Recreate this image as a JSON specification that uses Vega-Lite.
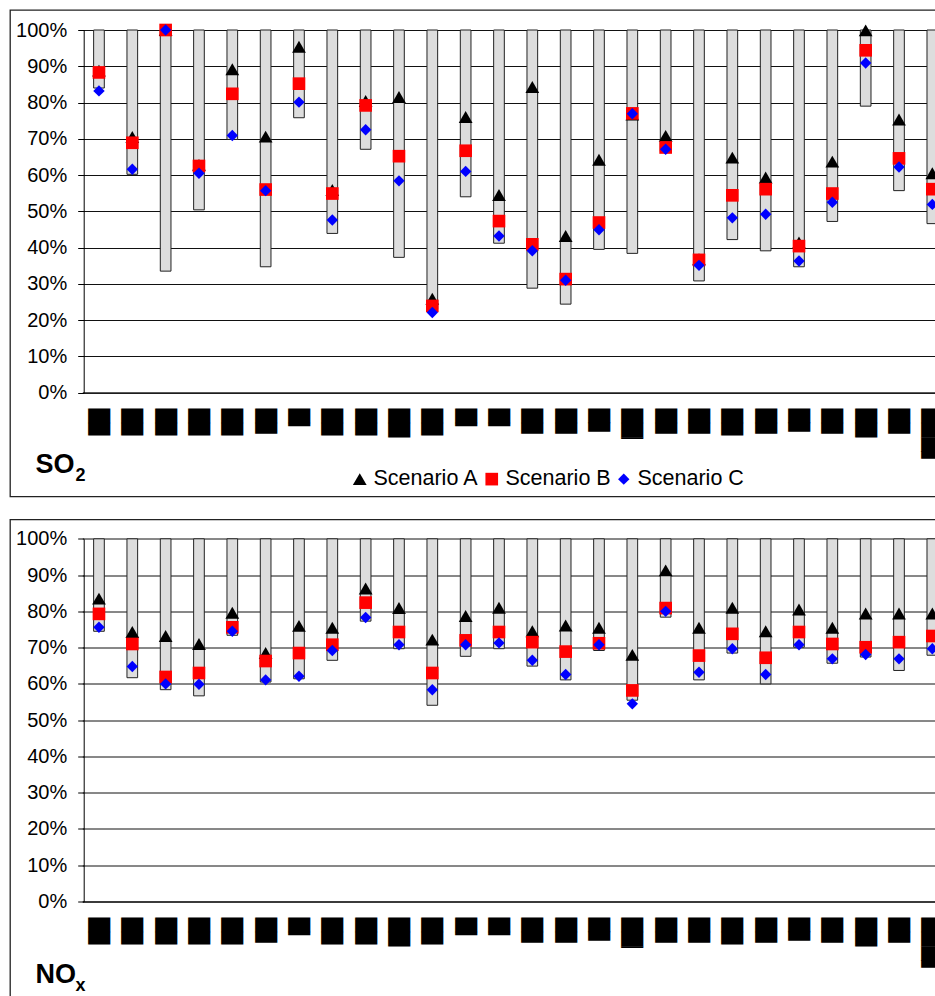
{
  "$schema": "https://vega.github.io/schema/vega-lite/v6.json",
  "padding": {"left": 9, "top": 9, "right": 0, "bottom": 0},
  "background": "white",
  "spacing": 20.5,
  "config": {
    "font": "Liberation Sans",
    "view": {"stroke": "#222", "strokeWidth": 1.3, "fill": "white"},
    "legend": {
      "orient": "none", "direction": "horizontal", "columns": 3, "title": null,
      "labelFont": "Liberation Sans", "labelFontSize": 21.5, "labelColor": "#000",
      "symbolSize": 150, "symbolStrokeWidth": 0, "labelOffset": 3, "columnPadding": 2, "padding": 0, "labelLimit": 0
    }
  },
  "datasets": {
    "so2": [
      {"cat": 1, "low": 84, "Scenario A": 88.8, "Scenario B": 88.3, "Scenario C": 83.2},
      {"cat": 2, "low": 60.2, "Scenario A": 70.5, "Scenario B": 68.9, "Scenario C": 61.6},
      {"cat": 3, "low": 33.5, "Scenario A": 100, "Scenario B": 100, "Scenario C": 100},
      {"cat": 4, "low": 50.4, "Scenario A": 62.8, "Scenario B": 62.5, "Scenario C": 60.5},
      {"cat": 5, "low": 69.8, "Scenario A": 89.2, "Scenario B": 82.4, "Scenario C": 70.9},
      {"cat": 6, "low": 34.7, "Scenario A": 70.6, "Scenario B": 56, "Scenario C": 55.7},
      {"cat": 7, "low": 75.8, "Scenario A": 95.4, "Scenario B": 85.2, "Scenario C": 80.1},
      {"cat": 8, "low": 43.9, "Scenario A": 55.9, "Scenario B": 54.9, "Scenario C": 47.6},
      {"cat": 9, "low": 67.1, "Scenario A": 80.4, "Scenario B": 79.2, "Scenario C": 72.5},
      {"cat": 10, "low": 37.3, "Scenario A": 81.5, "Scenario B": 65.2, "Scenario C": 58.4},
      {"cat": 11, "low": 23, "Scenario A": 25.9, "Scenario B": 23.9, "Scenario C": 22.1},
      {"cat": 12, "low": 54, "Scenario A": 76, "Scenario B": 66.7, "Scenario C": 61},
      {"cat": 13, "low": 41.2, "Scenario A": 54.5, "Scenario B": 47.3, "Scenario C": 43.2},
      {"cat": 14, "low": 28.8, "Scenario A": 84.3, "Scenario B": 40.9, "Scenario C": 39.1},
      {"cat": 15, "low": 24.4, "Scenario A": 43.2, "Scenario B": 31.3, "Scenario C": 31},
      {"cat": 16, "low": 39.5, "Scenario A": 64.2, "Scenario B": 46.9, "Scenario C": 44.9},
      {"cat": 17, "low": 38.4, "Scenario A": 76.7, "Scenario B": 77, "Scenario C": 76.9},
      {"cat": 18, "low": 66.5, "Scenario A": 70.8, "Scenario B": 67.6, "Scenario C": 67.1},
      {"cat": 19, "low": 30.8, "Scenario A": 36.8, "Scenario B": 36.6, "Scenario C": 35.1},
      {"cat": 20, "low": 42.2, "Scenario A": 64.8, "Scenario B": 54.4, "Scenario C": 48.2},
      {"cat": 21, "low": 39.1, "Scenario A": 59.3, "Scenario B": 56.1, "Scenario C": 49.2},
      {"cat": 22, "low": 34.7, "Scenario A": 41.4, "Scenario B": 40.4, "Scenario C": 36.3},
      {"cat": 23, "low": 47.2, "Scenario A": 63.7, "Scenario B": 54.9, "Scenario C": 52.5},
      {"cat": 24, "low": 79, "Scenario A": 99.9, "Scenario B": 94.4, "Scenario C": 90.9},
      {"cat": 25, "low": 55.7, "Scenario A": 75.3, "Scenario B": 64.6, "Scenario C": 62.2},
      {"cat": 26, "low": 46.6, "Scenario A": 60.5, "Scenario B": 56.1, "Scenario C": 51.9}
    ],
    "nox": [
      {"cat": 1, "low": 74.5, "Scenario A": 83.5, "Scenario B": 79.3, "Scenario C": 75.6},
      {"cat": 2, "low": 61.7, "Scenario A": 74.3, "Scenario B": 71, "Scenario C": 64.8},
      {"cat": 3, "low": 58.4, "Scenario A": 73.2, "Scenario B": 61.9, "Scenario C": 60},
      {"cat": 4, "low": 56.7, "Scenario A": 71, "Scenario B": 63, "Scenario C": 59.9},
      {"cat": 5, "low": 73.4, "Scenario A": 79.6, "Scenario B": 75.6, "Scenario C": 74.5},
      {"cat": 6, "low": 60.5, "Scenario A": 68.5, "Scenario B": 66.3, "Scenario C": 61.1},
      {"cat": 7, "low": 61.4, "Scenario A": 76, "Scenario B": 68.5, "Scenario C": 62.1},
      {"cat": 8, "low": 66.5, "Scenario A": 75.5, "Scenario B": 70.8, "Scenario C": 69.2},
      {"cat": 9, "low": 77.3, "Scenario A": 86.3, "Scenario B": 82.4, "Scenario C": 78.3},
      {"cat": 10, "low": 69.7, "Scenario A": 80.9, "Scenario B": 74.3, "Scenario C": 70.8},
      {"cat": 11, "low": 54.1, "Scenario A": 72.2, "Scenario B": 63, "Scenario C": 58.4},
      {"cat": 12, "low": 67.6, "Scenario A": 78.7, "Scenario B": 72, "Scenario C": 70.8},
      {"cat": 13, "low": 69.7, "Scenario A": 81, "Scenario B": 74.3, "Scenario C": 71.3},
      {"cat": 14, "low": 64.9, "Scenario A": 74.5, "Scenario B": 71.5, "Scenario C": 66.5},
      {"cat": 15, "low": 61.1, "Scenario A": 76.1, "Scenario B": 68.9, "Scenario C": 62.6},
      {"cat": 16, "low": 69.2, "Scenario A": 75.5, "Scenario B": 71.2, "Scenario C": 70.8},
      {"cat": 17, "low": 55.5, "Scenario A": 68, "Scenario B": 58.2, "Scenario C": 54.5},
      {"cat": 18, "low": 78.4, "Scenario A": 91.3, "Scenario B": 80.9, "Scenario C": 80},
      {"cat": 19, "low": 61.1, "Scenario A": 75.5, "Scenario B": 67.8, "Scenario C": 63.2},
      {"cat": 20, "low": 68.5, "Scenario A": 81, "Scenario B": 73.8, "Scenario C": 69.7},
      {"cat": 21, "low": 60, "Scenario A": 74.5, "Scenario B": 67.2, "Scenario C": 62.6},
      {"cat": 22, "low": 70.1, "Scenario A": 80.5, "Scenario B": 74.3, "Scenario C": 70.8},
      {"cat": 23, "low": 65.7, "Scenario A": 75.5, "Scenario B": 71, "Scenario C": 66.9},
      {"cat": 24, "low": 67.4, "Scenario A": 79.4, "Scenario B": 70.1, "Scenario C": 68.1},
      {"cat": 25, "low": 63.7, "Scenario A": 79.4, "Scenario B": 71.5, "Scenario C": 66.9},
      {"cat": 26, "low": 67.9, "Scenario A": 79.4, "Scenario B": 73.2, "Scenario C": 69.7}
    ]
  },
  "vconcat": [
    {
      "width": 927,
      "height": 486.5,
      "data": {"name": "so2"},
      "title": {"text": "SO", "subtitle": "\u200c\u00a0\u00a0\u00a0\u00a0\u00a0\u00a0\u00a0\u00a02", "orient": "top", "anchor": "start", "frame": "group", "offset": -497, "baseline": "alphabetic", "font": "Liberation Sans", "fontSize": 27, "fontWeight": "bold", "color": "#000", "subtitleFont": "Liberation Sans", "subtitleFontSize": 18, "subtitleFontWeight": "bold", "subtitleColor": "#000", "subtitlePadding": -19, "dx": 25.5},
      "encoding": {
        "x": {
          "field": "cat", "type": "ordinal",
          "scale": {"range": [72.3, 939], "paddingInner": 0, "paddingOuter": 0},
          "axis": {
            "title": null, "orient": "bottom", "offset": -104, "grid": false, "ticks": false, "tickSize": 0,
            "domain": true, "domainColor": "#222", "domainWidth": 1.5,
            "labelAngle": 90, "labelAlign": "left", "labelBaseline": "middle", "labelPadding": 15.5,
            "labelFont": "DejaVu Sans", "labelFontSize": 18.667, "labelColor": "#000",
            "labelOverlap": false, "labelBound": false, "labelFlush": false, "labelLimit": 0,
            "labelExpr": "['█▉','█▉','█▉','█▉','█▉','█▊','█▎','█▉','█▉','██','█▉','█▎','█▎','█▊','█▊','█▋','██▏','█▊','█▊','█▉','█▊','█▋','█▊','██','█▊','███▌'][datum.value - 1]"
          }
        }
      },
      "layer": [
        {
          "mark": {"type": "bar", "fill": "#dddddd", "stroke": "#222", "strokeWidth": 1, "width": {"band": 0.32}},
          "encoding": {
            "y": {
              "field": "low", "type": "quantitative",
              "scale": {"domain": [0, 100], "range": [382.6, 20], "nice": false, "zero": true},
              "axis": {"title": null, "offset": -73.7, "values": [0, 10, 20, 30, 40, 50, 60, 70, 80, 90, 100], "labelExpr": "datum.value + '%'", "grid": true, "gridColor": "#111", "gridWidth": 1, "domainColor": "#000", "domainWidth": 1, "tickColor": "#000", "tickSize": 6, "labelPadding": 11, "labelFont": "Liberation Sans", "labelFontSize": 20, "labelColor": "#000"}
            },
            "y2": {"datum": 100}
          }
        },
        {
          "transform": [{"fold": ["Scenario A", "Scenario B", "Scenario C"], "as": ["scenario", "value"]}],
          "mark": {"type": "point", "filled": true, "opacity": 1, "strokeWidth": 0},
          "encoding": {
            "y": {
              "field": "value", "type": "quantitative",
              "scale": {"domain": [0, 100], "range": [382.6, 20], "nice": false, "zero": true},
              "axis": {"title": null, "offset": -73.7, "values": [0, 10, 20, 30, 40, 50, 60, 70, 80, 90, 100], "labelExpr": "datum.value + '%'", "grid": true, "gridColor": "#111", "gridWidth": 1, "domainColor": "#000", "domainWidth": 1, "tickColor": "#000", "tickSize": 6, "labelPadding": 11, "labelFont": "Liberation Sans", "labelFontSize": 20, "labelColor": "#000"}
            },
            "size": {"field": "scenario", "type": "nominal", "scale": {"domain": ["Scenario A", "Scenario B", "Scenario C"], "range": [190, 130, 140]}, "legend": null},
            "color": {"field": "scenario", "type": "nominal", "scale": {"domain": ["Scenario A", "Scenario B", "Scenario C"], "range": ["#000000", "#ff0000", "#0000ff"]}, "legend": {"legendX": 339, "legendY": 458}},
            "shape": {"field": "scenario", "type": "nominal", "scale": {"domain": ["Scenario A", "Scenario B", "Scenario C"], "range": ["triangle-up", "square", "diamond"]}, "legend": {"legendX": 339, "legendY": 458}}
          }
        }
      ]
    },
    {
      "width": 927,
      "height": 486.5,
      "data": {"name": "nox"},
      "title": {"text": "NO", "subtitle": "\u200c\u00a0\u00a0\u00a0\u00a0\u00a0\u00a0\u00a0\u00a0x", "orient": "top", "anchor": "start", "frame": "group", "offset": -497, "baseline": "alphabetic", "font": "Liberation Sans", "fontSize": 27, "fontWeight": "bold", "color": "#000", "subtitleFont": "Liberation Sans", "subtitleFontSize": 18, "subtitleFontWeight": "bold", "subtitleColor": "#000", "subtitlePadding": -19, "dx": 25.5},
      "encoding": {
        "x": {
          "field": "cat", "type": "ordinal",
          "scale": {"range": [72.3, 939], "paddingInner": 0, "paddingOuter": 0},
          "axis": {
            "title": null, "orient": "bottom", "offset": -104.5, "grid": false, "ticks": false, "tickSize": 0,
            "domain": true, "domainColor": "#222", "domainWidth": 1.5,
            "labelAngle": 90, "labelAlign": "left", "labelBaseline": "middle", "labelPadding": 15.5,
            "labelFont": "DejaVu Sans", "labelFontSize": 18.667, "labelColor": "#000",
            "labelOverlap": false, "labelBound": false, "labelFlush": false, "labelLimit": 0,
            "labelExpr": "['█▉','█▉','█▉','█▉','█▉','█▊','█▎','█▉','█▉','██','█▉','█▎','█▎','█▊','█▊','█▋','██▏','█▊','█▊','█▉','█▊','█▋','█▊','██','█▊','███▌'][datum.value - 1]"
          }
        }
      },
      "layer": [
        {
          "mark": {"type": "bar", "fill": "#dddddd", "stroke": "#222", "strokeWidth": 1, "width": {"band": 0.32}},
          "encoding": {
            "y": {
              "field": "low", "type": "quantitative",
              "scale": {"domain": [0, 100], "range": [382, 19.3], "nice": false, "zero": true},
              "axis": {"title": null, "offset": -73.7, "values": [0, 10, 20, 30, 40, 50, 60, 70, 80, 90, 100], "labelExpr": "datum.value + '%'", "grid": true, "gridColor": "#111", "gridWidth": 1, "domainColor": "#000", "domainWidth": 1, "tickColor": "#000", "tickSize": 6, "labelPadding": 11, "labelFont": "Liberation Sans", "labelFontSize": 20, "labelColor": "#000"}
            },
            "y2": {"datum": 100}
          }
        },
        {
          "transform": [{"fold": ["Scenario A", "Scenario B", "Scenario C"], "as": ["scenario", "value"]}],
          "mark": {"type": "point", "filled": true, "opacity": 1, "strokeWidth": 0},
          "encoding": {
            "y": {
              "field": "value", "type": "quantitative",
              "scale": {"domain": [0, 100], "range": [382, 19.3], "nice": false, "zero": true},
              "axis": {"title": null, "offset": -73.7, "values": [0, 10, 20, 30, 40, 50, 60, 70, 80, 90, 100], "labelExpr": "datum.value + '%'", "grid": true, "gridColor": "#111", "gridWidth": 1, "domainColor": "#000", "domainWidth": 1, "tickColor": "#000", "tickSize": 6, "labelPadding": 11, "labelFont": "Liberation Sans", "labelFontSize": 20, "labelColor": "#000"}
            },
            "size": {"field": "scenario", "type": "nominal", "scale": {"domain": ["Scenario A", "Scenario B", "Scenario C"], "range": [190, 130, 140]}, "legend": null},
            "color": {"field": "scenario", "type": "nominal", "scale": {"domain": ["Scenario A", "Scenario B", "Scenario C"], "range": ["#000000", "#ff0000", "#0000ff"]}, "legend": {"legendX": 339, "legendY": 456}},
            "shape": {"field": "scenario", "type": "nominal", "scale": {"domain": ["Scenario A", "Scenario B", "Scenario C"], "range": ["triangle-up", "square", "diamond"]}, "legend": {"legendX": 339, "legendY": 456}}
          }
        }
      ]
    }
  ]
}
